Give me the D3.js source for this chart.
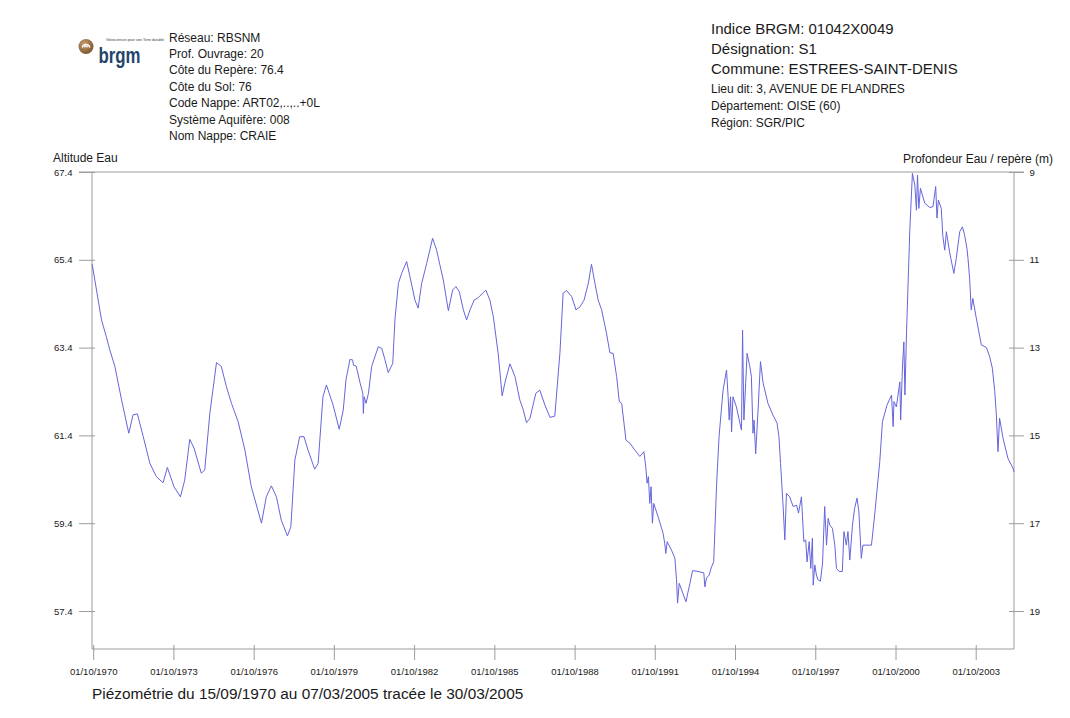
<!DOCTYPE html>
<html>
<head>
<meta charset="utf-8">
<script src="https://cdn.jsdelivr.net/npm/d3@7"></script>
<style>
  html, body { margin: 0; padding: 0; background: #fff; }
  svg { display: block; }
  text { font-family: "Liberation Sans", Arial, sans-serif; fill: #1a1a1a; }
</style>
</head>
<body>
<svg id="chart" width="1070" height="718"></svg>
<script>
// Piezometric record, well 01042X0049 (water level altitude, m NGF), decimal years
const years = [
  1970.71, 1971.06, 1971.24, 1971.37, 1971.56, 1971.81, 1972.08, 1972.24, 1972.40, 1972.62,
  1972.87, 1973.11, 1973.36, 1973.52, 1973.77, 1974.01, 1974.17, 1974.36, 1974.52, 1974.79,
  1974.92, 1975.11, 1975.36, 1975.54, 1975.73, 1975.92, 1976.17, 1976.42, 1976.66, 1977.04,
  1977.22, 1977.41, 1977.60, 1977.78, 1978.01, 1978.14, 1978.29, 1978.47, 1978.63, 1978.78,
  1979.03, 1979.16, 1979.34, 1979.47, 1979.72,
  1979.95, 1980.10, 1980.20, 1980.35, 1980.45, 1980.48, 1980.58, 1980.73, 1980.83, 1980.85,
  1980.88, 1980.95, 1981.04, 1981.16, 1981.29, 1981.41, 1981.54, 1981.66, 1981.78, 1981.95,
  1982.03, 1982.16, 1982.28, 1982.47, 1982.62, 1982.78, 1982.90, 1983.03, 1983.22, 1983.44,
  1983.59, 1983.84, 1984.03, 1984.19, 1984.31, 1984.44, 1984.59, 1984.71, 1984.84, 1984.99,
  1985.15, 1985.31, 1985.43, 1985.58, 1985.71, 1985.89, 1986.04, 1986.14, 1986.33, 1986.52,
  1986.70, 1986.83, 1986.95, 1987.08, 1987.30, 1987.45, 1987.64, 1987.83, 1988.01, 1988.20,
  1988.32, 1988.45, 1988.64,
  1988.80, 1988.95, 1989.10, 1989.26, 1989.38, 1989.51, 1989.63, 1989.76, 1989.94, 1990.07,
  1990.19, 1990.32, 1990.42, 1990.51, 1990.67, 1990.82, 1991.00, 1991.19, 1991.34, 1991.41,
  1991.46, 1991.51, 1991.56, 1991.61, 1991.66, 1991.71, 1991.87, 1992.06, 1992.12, 1992.16,
  1992.21, 1992.37, 1992.50, 1992.56, 1992.60, 1992.66, 1992.75, 1992.91, 1993.06, 1993.16,
  1993.37, 1993.58, 1993.62, 1993.68, 1993.78, 1993.87, 1993.95, 1994.06, 1994.15, 1994.30,
  1994.43, 1994.49, 1994.53, 1994.58, 1994.62, 1994.67, 1994.80, 1994.93, 1994.99, 1995.03,
  1995.08, 1995.20, 1995.30, 1995.36, 1995.42, 1995.46, 1995.52, 1995.61, 1995.70, 1995.80,
  1995.98, 1996.17, 1996.32, 1996.39, 1996.45, 1996.54, 1996.61, 1996.67, 1996.79, 1996.92,
  1997.05, 1997.12, 1997.23,
  1997.32, 1997.39, 1997.44, 1997.52, 1997.58, 1997.64, 1997.67, 1997.73, 1997.79, 1997.85,
  1997.94, 1998.02, 1998.10, 1998.17, 1998.23, 1998.29, 1998.39, 1998.48, 1998.54, 1998.64,
  1998.76, 1998.82, 1998.91, 1998.97, 1999.04, 1999.14, 1999.22, 1999.31, 1999.38, 1999.47,
  1999.53, 1999.85, 1999.97, 2000.16, 2000.26, 2000.43, 2000.60, 2000.66, 2000.69, 2000.78,
  2000.91, 2000.94, 2001.01, 2001.06, 2001.10, 2001.16, 2001.28, 2001.38, 2001.47, 2001.53,
  2001.57, 2001.62, 2001.68, 2001.84, 2002.03, 2002.15, 2002.25, 2002.30, 2002.35, 2002.46,
  2002.52, 2002.59, 2002.65, 2002.77, 2002.93, 2003.02, 2003.15, 2003.25, 2003.33, 2003.42,
  2003.46, 2003.52, 2003.58, 2003.64, 2003.77, 2003.96, 2004.15, 2004.27, 2004.37, 2004.46,
  2004.52, 2004.58, 2004.64, 2004.77, 2004.95, 2005.14, 2005.18
];

const altitudes = [
  65.30, 64.03, 63.65, 63.35, 62.97, 62.21, 61.45, 61.87, 61.89, 61.37,
  60.76, 60.46, 60.32, 60.67, 60.23, 60.00, 60.38, 61.31, 61.11, 60.54,
  60.61, 61.90, 63.06, 62.97, 62.51, 62.13, 61.71, 61.07, 60.23, 59.40,
  60.00, 60.25, 60.00, 59.47, 59.11, 59.32, 60.84, 61.37, 61.37, 61.07,
  60.63, 60.76, 62.28, 62.55, 62.09,
  61.54, 61.98, 62.66, 63.13, 63.12, 63.00, 62.98, 62.59, 62.36, 61.90,
  62.28, 62.13, 62.36, 62.97, 63.21, 63.42, 63.38, 63.12, 62.83, 63.04,
  64.03, 64.86, 65.09, 65.36, 64.94, 64.48, 64.30, 64.86, 65.32, 65.89,
  65.62, 64.94, 64.24, 64.71, 64.79, 64.67, 64.26, 64.03, 64.26, 64.48,
  64.54, 64.64, 64.71, 64.48, 64.10, 63.27, 62.30, 62.59, 63.03, 62.74,
  62.21, 61.98, 61.69, 61.79, 62.36, 62.43, 62.09, 61.81, 61.84, 63.27,
  64.64, 64.70, 64.56,
  64.26, 64.33, 64.48, 64.86, 65.30, 64.86, 64.48, 64.26, 63.73, 63.28,
  63.27, 62.74, 62.17, 62.13, 61.29, 61.22, 61.07, 60.92, 61.03, 60.69,
  60.31, 60.46, 59.85, 60.23, 59.40, 59.85, 59.55, 59.17, 58.94, 58.71,
  58.98, 58.79, 58.60, 58.11, 57.58, 58.03, 57.88, 57.61, 58.03, 58.32,
  58.30, 58.27, 57.95, 58.15, 58.22, 58.41, 58.52, 60.31, 61.37, 62.43,
  62.89, 62.28, 61.75, 62.28, 61.48, 62.28, 62.05, 61.68, 61.52, 63.80,
  61.75, 63.27, 62.97, 62.74, 61.45, 61.75, 60.98, 61.98, 63.08, 62.59,
  62.13, 61.86, 61.68, 61.37, 60.76, 59.85, 59.02, 60.08, 60.00, 59.78,
  59.81, 59.63, 60.00,
  58.98, 59.02, 58.52, 58.98, 58.37, 59.06, 57.99, 58.45, 58.22, 58.11,
  58.08, 58.49, 59.78, 58.90, 59.51, 59.36, 59.28, 58.90, 58.37, 58.30,
  58.30, 59.21, 58.90, 59.21, 58.56, 59.36, 59.74, 59.97, 59.66, 58.60,
  58.90, 58.90, 59.59, 60.80, 61.71, 62.09, 62.32, 61.60, 62.17, 62.05,
  62.62, 61.75, 63.00, 63.53, 62.32, 63.76, 66.04, 67.37, 67.10, 66.53,
  67.33, 66.57, 67.03, 66.69, 66.59, 66.61, 67.07, 66.35, 66.76, 66.57,
  65.93, 65.62, 66.04, 65.58, 65.09, 65.43, 66.04, 66.15, 65.97, 65.66,
  65.43, 64.98, 64.26, 64.52, 64.07, 63.46, 63.40, 63.19, 62.93, 62.40,
  61.86, 61.03, 61.79, 61.33, 60.88, 60.65, 60.57
];

// Axis ticks
const dateTicks = ["1970-10-01", "1973-10-01", "1976-10-01", "1979-10-01", "1982-10-01", "1985-10-01",
                   "1988-10-01", "1991-10-01", "1994-10-01", "1997-10-01", "2000-10-01", "2003-10-01"];
const altitudeTicks = [67.4, 65.4, 63.4, 61.4, 59.4, 57.4];
const depthTicks = [9, 11, 13, 15, 17, 19];

// Well metadata
const refElevation = 76.4;
const leftInfo = ["Réseau: RBSNM", "Prof. Ouvrage: 20", "Côte du Repère: 76.4", "Côte du Sol: 76",
                  "Code Nappe: ART02,..,..+0L", "Système Aquifère: 008", "Nom Nappe: CRAIE"];
const rightInfoLarge = ["Indice BRGM: 01042X0049", "Désignation: S1", "Commune: ESTREES-SAINT-DENIS"];
const rightInfoSmall = ["Lieu dit: 3, AVENUE DE FLANDRES", "Département: OISE (60)", "Région: SGR/PIC"];
const footer = "Piézométrie du 15/09/1970 au 07/03/2005 tracée le 30/03/2005";

const svg = d3.select("#chart");
const axisColor = "#9c9c9c";

const plot = { left: 92, right: 1014, top: 172, bottom: 649 };

function toDate(y) {
  const yr = Math.floor(y);
  const start = Date.UTC(yr, 0, 1), end = Date.UTC(yr + 1, 0, 1);
  return new Date(start + (y - yr) * (end - start));
}

const x = d3.scaleUtc()
  .domain([new Date(Date.UTC(1970, 8, 15)), new Date(Date.UTC(2005, 2, 7))])
  .range([plot.left, plot.right]);
const y = d3.scaleLinear().domain([57.4, 67.4]).range([611, 172]);
const yDepth = d3.scaleLinear().domain([refElevation - 57.4, refElevation - 67.4]).range([611, 172]);

// Frame
svg.append("line").attr("x1", 79).attr("x2", 1024).attr("y1", plot.top).attr("y2", plot.top)
  .attr("stroke", axisColor);
svg.append("line").attr("x1", plot.left).attr("x2", plot.left).attr("y1", plot.top).attr("y2", plot.bottom)
  .attr("stroke", axisColor);
svg.append("line").attr("x1", plot.right).attr("x2", plot.right).attr("y1", plot.top).attr("y2", plot.bottom)
  .attr("stroke", axisColor);
svg.append("line").attr("x1", plot.left).attr("x2", plot.right).attr("y1", plot.bottom).attr("y2", plot.bottom)
  .attr("stroke", axisColor);

function styleAxis(g, size) {
  g.select(".domain").remove();
  g.selectAll(".tick line").attr("stroke", axisColor);
  g.selectAll(".tick text").attr("fill", "#1a1a1a").style("font-size", size + "px")
    .style("font-family", "'Liberation Sans', Arial, sans-serif");
}

// Left axis: water altitude
svg.append("g").attr("transform", `translate(95,0)`)
  .call(d3.axisLeft(y).tickValues(altitudeTicks).tickFormat(d3.format(".1f")).tickSize(16).tickPadding(6.5))
  .call(g => styleAxis(g, 9.5));

// Right axis: depth below reference mark
svg.append("g").attr("transform", `translate(1009,0)`)
  .call(d3.axisRight(yDepth).tickValues(depthTicks).tickFormat(d3.format("d")).tickSize(15).tickPadding(5.5))
  .call(g => styleAxis(g, 9.5));

// Bottom axis: dates
svg.append("g").attr("transform", `translate(0,645)`)
  .call(d3.axisBottom(x).tickValues(dateTicks.map(d => new Date(d + "T00:00:00Z")))
    .tickFormat(d3.utcFormat("%d/%m/%Y")).tickSize(15).tickPadding(8))
  .call(g => styleAxis(g, 9.5));

// Series
const series = years.map((t, i) => ({ date: toDate(t), value: altitudes[i] }));
svg.append("path")
  .datum(series)
  .attr("fill", "none")
  .attr("stroke", "#6565dc")
  .attr("stroke-width", 1)
  .attr("stroke-linejoin", "round")
  .attr("d", d3.line().x(d => x(d.date)).y(d => y(d.value)));

// Axis titles
svg.append("text").attr("x", 53).attr("y", 161.5).style("font-size", "12px").text("Altitude Eau");
svg.append("text").attr("x", 1053).attr("y", 162.5).attr("text-anchor", "end").style("font-size", "12px")
  .text("Profondeur Eau / repère (m)");

// Well information, left block
svg.append("g").selectAll("text").data(leftInfo).join("text")
  .attr("x", 169).attr("y", (d, i) => 41.5 + i * 16.4)
  .style("font-size", "12px").text(d => d);

// Well information, right block
svg.append("g").selectAll("text").data(rightInfoLarge).join("text")
  .attr("x", 711).attr("y", (d, i) => 34 + i * 20.2)
  .style("font-size", "15px").text(d => d);
svg.append("g").selectAll("text").data(rightInfoSmall).join("text")
  .attr("x", 711).attr("y", (d, i) => 93.3 + i * 16.7)
  .style("font-size", "12px").text(d => d);

// Footer
svg.append("text").attr("x", 92).attr("y", 699).style("font-size", "15.4px").text(footer);

// Logo
const logo = svg.append("g");
const grad = svg.append("defs").append("radialGradient").attr("id", "globe")
  .attr("cx", "40%").attr("cy", "35%").attr("r", "70%");
grad.append("stop").attr("offset", "0%").attr("stop-color", "#c8a070");
grad.append("stop").attr("offset", "100%").attr("stop-color", "#7a5028");
logo.append("circle").attr("cx", 86).attr("cy", 46.5).attr("r", 7.5).attr("fill", "url(#globe)");
logo.append("path").attr("d", "M82.2,47.5 A3.9,3.9 0 0 1 89.8,47.5")
  .attr("fill", "none").attr("stroke", "#fff").attr("stroke-width", 1.4);
logo.append("path").attr("d", "M84.4,47.3 A1.7,1.7 0 0 1 87.6,47.3")
  .attr("fill", "none").attr("stroke", "#fff").attr("stroke-width", 1.1);
logo.append("text").attr("x", 98.5).attr("y", 62.5)
  .attr("textLength", 42).attr("lengthAdjust", "spacingAndGlyphs")
  .style("font-size", "22.5px").style("font-weight", "bold").style("fill", "#23456a")
  .style("font-family", "'Liberation Sans Narrow', 'Liberation Sans', Arial, sans-serif")
  .text("brgm");
logo.append("text").attr("x", 106).attr("y", 40.6)
  .style("font-size", "3.6px").style("fill", "#2b3b3b")
  .text("Géosciences pour une Terre durable");
</script>
</body>
</html>
